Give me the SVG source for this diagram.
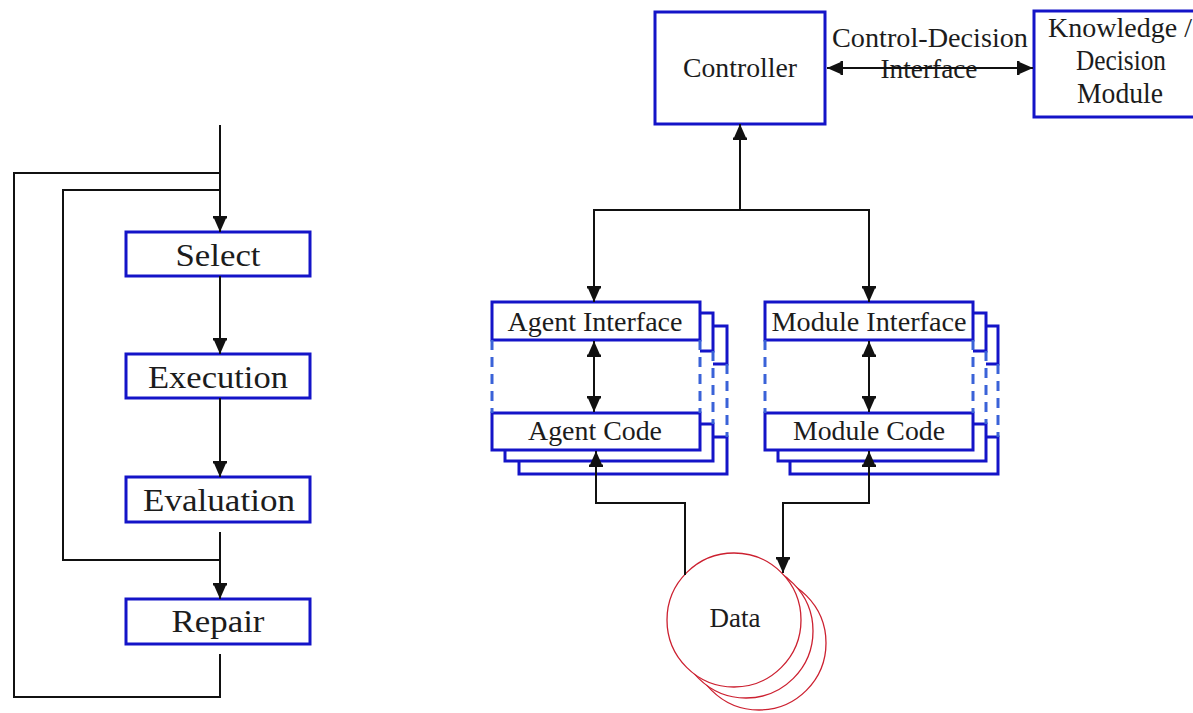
<svg xmlns="http://www.w3.org/2000/svg" xmlns:xlink="http://www.w3.org/1999/xlink" width="1193" height="713" viewBox="0 0 1193 713">
  <style>
    .box { fill: #ffffff; stroke: #1414c8; stroke-width: 3; }
    .dash { fill: none; stroke: #3a62d8; stroke-width: 3; stroke-dasharray: 10 7; }
    .wire { fill: none; stroke: #111111; stroke-width: 2; }
    .lbl { font-family: "Liberation Serif", "Times New Roman", serif; fill: #1c1c1c; text-anchor: middle; }
    .big { font-size: 31px; }
    .mid { font-size: 27px; }
    .disk { fill: #ffffff; stroke: #cc2030; stroke-width: 1.3; }
  </style>
  <defs>
    <marker id="head" viewBox="0 0 16 14" markerWidth="16" markerHeight="14" refX="16" refY="7" orient="auto-start-reverse" markerUnits="userSpaceOnUse">
      <path d="M0,0 L16,7 L0,14 Z M0,0 L2.5,0 L2.5,14 L0,14 Z" fill="#111111"/>
    </marker>
    <!-- one interface/code card: solid interface and code boxes joined by dashed sides -->
    <g id="card">
      <rect x="0" y="0" width="208" height="148" fill="#ffffff"/>
      <rect class="box" x="0" y="0" width="208" height="38"/>
      <rect class="box" x="0" y="111" width="208" height="37"/>
      <line class="dash" x1="0" y1="38" x2="0" y2="111"/>
      <line class="dash" x1="208" y1="38" x2="208" y2="111"/>
    </g>
  </defs>

  <rect width="1193" height="713" fill="#ffffff"/>

  <!-- process loop -->
  <g id="select">
    <rect class="box" x="126" y="232" width="184" height="44"/>
    <text class="lbl big" x="218" y="266" textLength="85" lengthAdjust="spacingAndGlyphs">Select</text>
  </g>
  <g id="execution">
    <rect class="box" x="126" y="354" width="184" height="44"/>
    <text class="lbl big" x="218" y="388" textLength="140" lengthAdjust="spacingAndGlyphs">Execution</text>
  </g>
  <g id="evaluation">
    <rect class="box" x="126" y="477" width="184" height="45"/>
    <text class="lbl big" x="219" y="511" textLength="152" lengthAdjust="spacingAndGlyphs">Evaluation</text>
  </g>
  <g id="repair">
    <rect class="box" x="126" y="599" width="184" height="45"/>
    <text class="lbl big" x="218" y="632" textLength="93" lengthAdjust="spacingAndGlyphs">Repair</text>
  </g>

  <!-- architecture -->
  <g id="controller">
    <rect class="box" x="655" y="12" width="170" height="112"/>
    <text class="lbl mid" x="740" y="77" textLength="114" lengthAdjust="spacingAndGlyphs">Controller</text>
  </g>
  <g id="knowledge">
    <rect class="box" x="1034" y="11" width="172" height="106"/>
    <text class="lbl mid" x="1120" y="37" textLength="144" lengthAdjust="spacingAndGlyphs">Knowledge /</text>
    <text class="lbl" x="1121" y="70" font-size="29" textLength="90" lengthAdjust="spacingAndGlyphs">Decision</text>
    <text class="lbl" x="1120" y="103" font-size="29" textLength="86" lengthAdjust="spacingAndGlyphs">Module</text>
  </g>
  <g id="agent">
    <use xlink:href="#card" x="519" y="326"/>
    <use xlink:href="#card" x="505" y="313"/>
    <use xlink:href="#card" x="492" y="302"/>
    <text class="lbl mid" x="595" y="331" textLength="175" lengthAdjust="spacingAndGlyphs">Agent Interface</text>
    <text class="lbl mid" x="595" y="440" textLength="134" lengthAdjust="spacingAndGlyphs">Agent Code</text>
  </g>
  <g id="module">
    <use xlink:href="#card" x="790" y="326"/>
    <use xlink:href="#card" x="778" y="313"/>
    <use xlink:href="#card" x="765" y="302"/>
    <text class="lbl mid" x="869" y="331" textLength="195" lengthAdjust="spacingAndGlyphs">Module Interface</text>
    <text class="lbl mid" x="869" y="440" textLength="152" lengthAdjust="spacingAndGlyphs">Module Code</text>
  </g>
  <g id="data">
    <circle class="disk" cx="759" cy="643" r="67"/>
    <circle class="disk" cx="746" cy="631" r="67"/>
    <circle class="disk" cx="734" cy="620" r="67"/>
    <text class="lbl" x="735" y="627" font-size="28" textLength="51" lengthAdjust="spacingAndGlyphs">Data</text>
  </g>

  <g id="connectors">
    <!-- process loop -->
    <line class="wire" x1="220" y1="125" x2="220" y2="232" marker-end="url(#head)"/>
    <polyline class="wire" points="220,173 14,173 14,697 220,697 220,654"/>
    <polyline class="wire" points="220,190 63,190 63,560 220,560"/>
    <line class="wire" x1="220" y1="276" x2="220" y2="354" marker-end="url(#head)"/>
    <line class="wire" x1="220" y1="398" x2="220" y2="477" marker-end="url(#head)"/>
    <line class="wire" x1="220" y1="532" x2="220" y2="599" marker-end="url(#head)"/>

    <!-- control-decision interface -->
    <line class="wire" x1="827" y1="68" x2="1033" y2="68" marker-start="url(#head)" marker-end="url(#head)"/>
    <text class="lbl mid" x="930" y="47" textLength="196" lengthAdjust="spacingAndGlyphs">Control-Decision</text>
    <text class="lbl mid" x="929" y="78" textLength="97" lengthAdjust="spacingAndGlyphs">Interface</text>
    <line class="wire" x1="840" y1="68" x2="1020" y2="68"/>

    <!-- controller to interfaces -->
    <line class="wire" x1="740" y1="210" x2="740" y2="124" marker-end="url(#head)"/>
    <polyline class="wire" points="594,302 594,210 869,210 869,302" marker-start="url(#head)" marker-end="url(#head)"/>

    <!-- interface to code -->
    <line class="wire" x1="594" y1="341" x2="594" y2="412" marker-start="url(#head)" marker-end="url(#head)"/>
    <line class="wire" x1="869" y1="341" x2="869" y2="412" marker-start="url(#head)" marker-end="url(#head)"/>

    <!-- code to data -->
    <polyline class="wire" points="685,575 685,503 596,503 596,451" marker-end="url(#head)"/>
    <polyline class="wire" points="869,451 869,503 783,503 783,573" marker-start="url(#head)" marker-end="url(#head)"/>
  </g>
</svg>
